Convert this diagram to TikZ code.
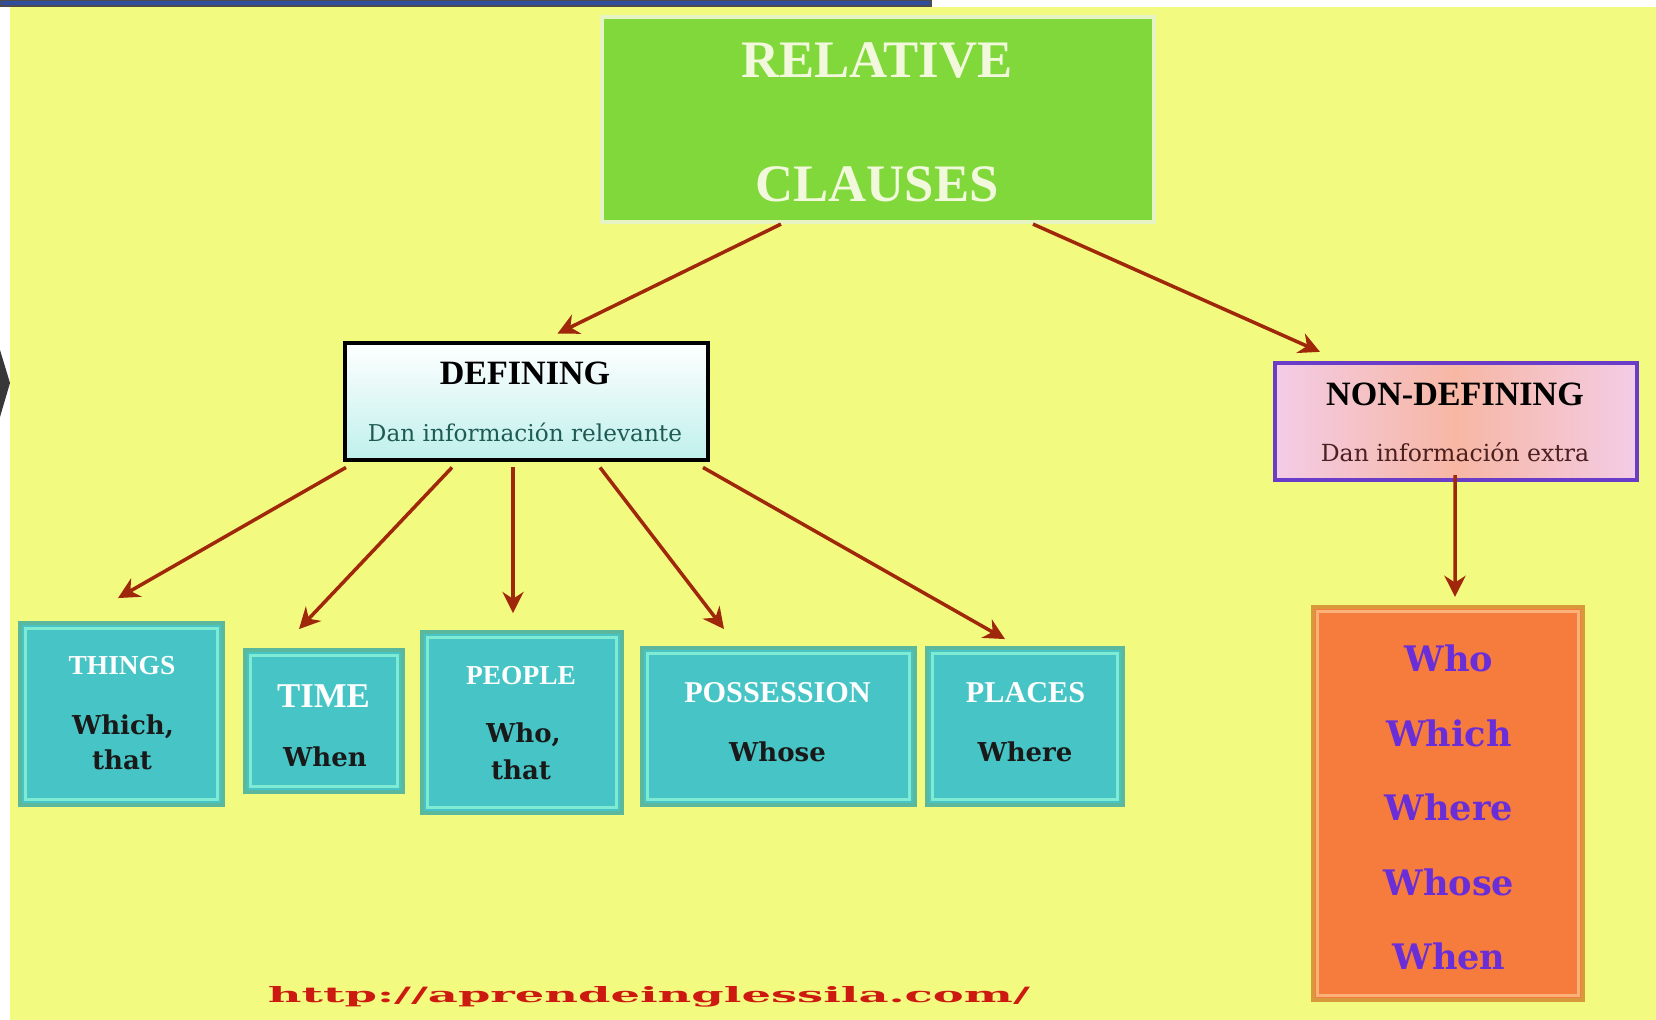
\documentclass[tikz,border=0pt]{standalone}
\usepackage{fontspec}
\usepackage{graphicx}
\usepackage{xcolor}
\usetikzlibrary{arrows.meta,calc}
\setmainfont{Liberation Serif}
\newfontfamily\slabfont{DejaVu Serif}
\definecolor{bgyellow}{HTML}{F3FA80}
\definecolor{barblue}{HTML}{2F4F9E}
\definecolor{titlegreen}{HTML}{80D83A}
\definecolor{titleedge}{HTML}{E6F4C4}
\definecolor{titletext}{HTML}{F2F8DC}
\definecolor{arrowred}{HTML}{A0280A}
\definecolor{defcyan}{HTML}{BFF0EC}
\definecolor{defsub}{HTML}{1E5B54}
\definecolor{ndedge}{HTML}{6A3DC8}
\definecolor{ndpink}{HTML}{F3CCE6}
\definecolor{ndpeach}{HTML}{F7B7A4}
\definecolor{ndsub}{HTML}{4A2020}
\definecolor{catfill}{HTML}{47C5C6}
\definecolor{catedge}{HTML}{5BB89C}
\definecolor{catline}{HTML}{80EBD3}
\definecolor{listfill}{HTML}{F67C3E}
\definecolor{listedge}{HTML}{D8983C}
\definecolor{listline}{HTML}{FBB27A}
\definecolor{listtext}{HTML}{6A2ED8}
\definecolor{urlred}{HTML}{CC1A10}

\begin{document}
\begin{tikzpicture}[
  catbox/.style={draw=catedge, line width=1.1pt, fill=catfill, inner sep=0pt},
  arr/.style={arrowred, line width=1pt, -{Stealth[length=6pt,width=6pt]}},
  cattitle/.style={text=white, anchor=base, font=\fontsize{#1}{10}\selectfont\bfseries},
  cattitle/.default=7.8,
  catword/.style={text=black!90, anchor=base, font=\fontsize{7.4}{9}\selectfont\slabfont\bfseries},
  headword/.style={text=black, anchor=base, font=\fontsize{9.7}{11}\selectfont\bfseries},
  listword/.style={text=listtext, anchor=base, font=\fontsize{10}{12}\selectfont\slabfont\bfseries},
]
\useasboundingbox (0,0) rectangle (16.56,-10.20);
% Draw the background
\fill[white] (0,0) rectangle (16.56,-10.20);
\fill[bgyellow] (0.10,-0.07) rectangle (16.56,-10.20);
\filldraw[fill=barblue, draw=black!70, line width=0.3pt] (0,0) rectangle (9.31,-0.06);
\fill[black!78] (0,-3.50) -- (0.10,-3.83) -- (0,-4.17) -- cycle;

% Draw the title box
\node[draw=titleedge, line width=1.2pt, fill=titlegreen, minimum width=5.52cm,
  minimum height=2.05cm, inner sep=0pt] (title) at (8.78,-1.195) {};
\node[text=titletext, anchor=base, font=\fontsize{15}{18}\selectfont\bfseries] (title-a) at (8.77,-0.78) {RELATIVE};
\node[text=titletext, anchor=base, font=\fontsize{15}{18}\selectfont\bfseries] (title-b) at (8.77,-2.02) {CLAUSES};

% Draw the DEFINING box
\node[draw=black, line width=1.4pt, top color=white, bottom color=defcyan,
  minimum width=3.63cm, minimum height=1.17cm, inner sep=0pt] (def) at (5.265,-4.015) {};
\node[headword] (def-a) at (5.25,-3.85) {DEFINING};
\node[text=defsub, anchor=base, font=\fontsize{6.6}{8}\selectfont\slabfont] (def-b) at (5.25,-4.42) {Dan información relevante};

% Draw the NON-DEFINING box
\node[draw=ndedge, line width=1.2pt, left color=ndpink, right color=ndpink, middle color=ndpeach,
  minimum width=3.62cm, minimum height=1.17cm, inner sep=0pt] (nondef) at (14.56,-4.215) {};
\node[headword] (nondef-a) at (14.55,-4.06) {NON-DEFINING};
\node[text=ndsub, anchor=base, font=\fontsize{6.7}{8}\selectfont\slabfont] (nondef-b) at (14.55,-4.62) {Dan información extra};

% Draw the five boxes under DEFINING
\node[catbox, minimum width=2.03cm, minimum height=1.82cm] (things) at (1.215,-7.14) {};
\node[catbox, minimum width=1.58cm, minimum height=1.42cm] (time) at (3.24,-7.21) {};
\node[catbox, minimum width=2.00cm, minimum height=1.81cm] (people) at (5.22,-7.225) {};
\node[catbox, minimum width=2.73cm, minimum height=1.57cm] (poss) at (7.785,-7.265) {};
\node[catbox, minimum width=1.96cm, minimum height=1.57cm] (places) at (10.25,-7.265) {};
\foreach \n in {things,time,people,poss,places}
  \draw[catline, line width=0.9pt] ([shift={(0.075,-0.075)}]\n.north west) rectangle ([shift={(-0.075,0.075)}]\n.south east);

\node[cattitle] (things-a) at (1.22,-6.75) {THINGS};
\node[catword] (things-b) at (1.23,-7.35) {Which,};
\node[catword] (things-c) at (1.22,-7.70) {that};
\node[cattitle=9.9] (time-a) at (3.235,-7.08) {TIME};
\node[catword] (time-b) at (3.25,-7.67) {When};
\node[cattitle] (people-a) at (5.21,-6.85) {PEOPLE};
\node[catword] (people-b) at (5.235,-7.43) {Who,};
\node[catword] (people-c) at (5.21,-7.80) {that};
\node[cattitle=8.6] (poss-a) at (7.775,-7.03) {POSSESSION};
\node[catword] (poss-b) at (7.775,-7.62) {Whose};
\node[cattitle=8.6] (places-a) at (10.255,-7.03) {PLACES};
\node[catword] (places-b) at (10.25,-7.62) {Where};

% Draw the box under NON-DEFINING
\node[draw=listedge, line width=1.2pt, fill=listfill, minimum width=2.70cm,
  minimum height=3.93cm, inner sep=0pt] (list) at (14.48,-8.035) {};
\draw[listline, line width=0.9pt] ([shift={(0.065,-0.065)}]list.north west) rectangle ([shift={(-0.065,0.065)}]list.south east);
\foreach \w [count=\i] in {Who,Which,Where,Whose,When}
  \node[listword] (list-\i) at (14.49,{-6.72-0.745*(\i-1)}) {\w};

% Draw the arrows
\draw[arr] ([xshift=-0.97cm]title.south) -- ([xshift=0.31cm,yshift=0.07cm]def.north);
\draw[arr] ([xshift=1.55cm]title.south) -- ([xshift=-1.36cm,yshift=0.09cm]nondef.north);
\draw[arr] ([xshift=-1.805cm,yshift=-0.05cm]def.south) -- ([xshift=-0.035cm,yshift=0.23cm]things.north);
\draw[arr] ([xshift=-0.745cm,yshift=-0.05cm]def.south) -- ([xshift=-0.25cm,yshift=0.19cm]time.north);
\draw[arr] ([xshift=-0.135cm,yshift=-0.05cm]def.south) -- ([xshift=-0.09cm,yshift=0.17cm]people.north);
\draw[arr] ([xshift=0.735cm,yshift=-0.05cm]def.south) -- ([xshift=-0.545cm,yshift=0.17cm]poss.north);
\draw[arr] ([xshift=1.765cm,yshift=-0.05cm]def.south) -- ([xshift=-0.20cm,yshift=0.07cm]places.north);
\draw[arr] ([xshift=-0.01cm,yshift=0.07cm]nondef.south) -- ([xshift=0.07cm,yshift=0.08cm]list.north);

% Draw the address
\node[text=urlred, anchor=base, font=\fontsize{6}{7}\selectfont\slabfont\bfseries] (url) at (6.49,-10.03)
  {\scalebox{2.2}[1]{http://aprendeinglessila.com/}};
\end{tikzpicture}
\end{document}
